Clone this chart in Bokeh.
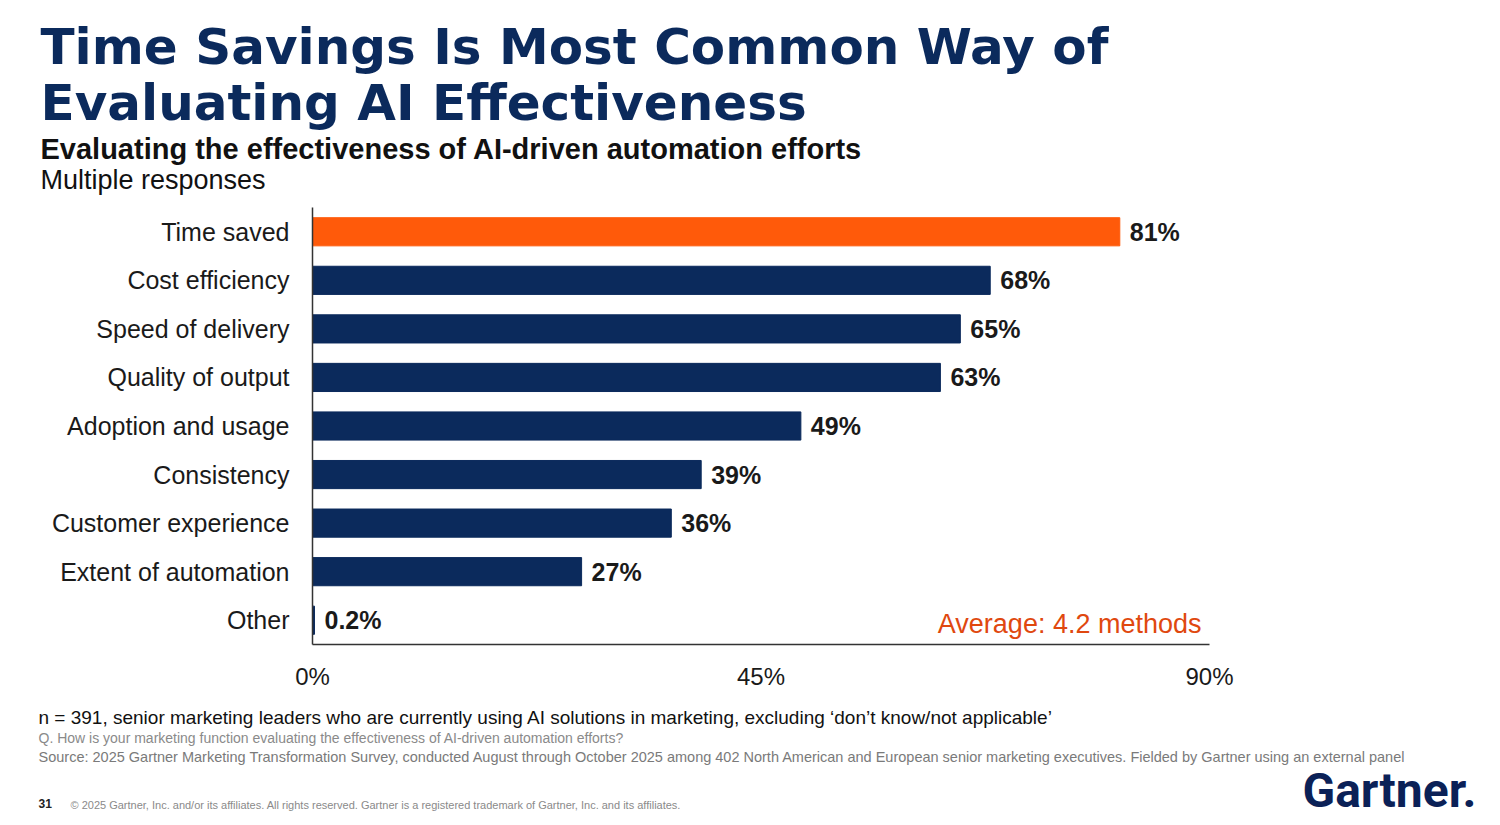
from bokeh.core.properties import value
from bokeh.embed import file_html
from bokeh.models import ColumnDataSource, FactorRange, FixedTicker, Label, PrintfTickFormatter, Range1d
from bokeh.plotting import figure
from bokeh.resources import INLINE

categories = ["Time saved", "Cost efficiency", "Speed of delivery", "Quality of output",
              "Adoption and usage", "Consistency", "Customer experience",
              "Extent of automation", "Other"]
shares = [81, 68, 65, 63, 49, 39, 36, 27, 0.2]
x_ticks = [0, 45, 90]

title_lines = ["Time Savings Is Most Common Way of", "Evaluating AI Effectiveness"]
subtitle = "Evaluating the effectiveness of AI-driven automation efforts"
note = "Multiple responses"
average_note = "Average: 4.2 methods"
base_note = ("n = 391, senior marketing leaders who are currently using AI solutions in marketing, "
             "excluding \u2018don\u2019t know/not applicable\u2019")
question = "Q. How is your marketing function evaluating the effectiveness of AI-driven automation efforts?"
source = ("Source: 2025 Gartner Marketing Transformation Survey, conducted August through October 2025 "
          "among 402 North American and European senior marketing executives. Fielded by Gartner using an external panel")
copyright_note = ("\u00a9 2025 Gartner, Inc. and/or its affiliates. All rights reserved. "
                  "Gartner is a registered trademark of Gartner, Inc. and its affiliates.")

NAVY = "#0b2a5c"
ORANGE = "#ff5a0a"
FONT = "Liberation Sans"
W = 1492


def text_panel(top, bottom):
    # a blank strip whose data units are page pixels (y grows downwards)
    f = figure(width=W, height=bottom - top, output_backend="svg", toolbar_location=None,
               x_range=Range1d(0, W), y_range=Range1d(bottom, top),
               x_axis_location=None, y_axis_location=None, min_border=0)
    f.outline_line_color = None
    f.grid.visible = False
    f.border_fill_color = "white"
    f.background_fill_color = "white"
    return f


def put(f, x, y, text, size, color="#1a1a1a", font=FONT, bold=False, align="left"):
    f.text(x=[x], y=[y], text=[text], text_font=value(font), text_font_size=size,
           text_color=color, text_font_style="bold" if bold else "normal",
           text_align=align, text_baseline="middle")


# header
head = text_panel(0, 207)
put(head, 40, 46, title_lines[0], "50px", NAVY, "DejaVu Sans", True)
put(head, 40, 102, title_lines[1], "50px", NAVY, "DejaVu Sans", True)
put(head, 40, 148, subtitle, "29px", "#111111", bold=True)
put(head, 40, 179, note, "27px", "#111111")

# chart
src = ColumnDataSource(dict(
    cat=categories,
    val=shares,
    color=[ORANGE if i == 0 else NAVY for i in range(len(categories))],
    label=[f"{v:g}%" for v in shares],
))

p = figure(width=W, height=493, output_backend="svg", toolbar_location=None,
           y_range=FactorRange(*reversed(categories)), x_range=Range1d(0, 90),
           min_border_left=312, min_border_right=W - 1209, min_border_top=0, min_border_bottom=56)
p.background_fill_color = "white"
p.border_fill_color = "white"
p.outline_line_color = None
p.grid.grid_line_color = None

p.hbar(y="cat", right="val", left=0, height=0.58, color="color", source=src)
p.text(x="val", y="cat", text="label", source=src, x_offset=10, text_baseline="middle",
       text_font=value(FONT), text_font_style="bold", text_font_size="25px", text_color="#1a1a1a")
p.add_layout(Label(x=889, y=21, x_units="screen", y_units="screen", text=average_note,
                   text_font=FONT, text_font_size="27px", text_color="#e0480f",
                   text_align="right", text_baseline="middle"))

p.yaxis.major_label_text_font = FONT
p.yaxis.major_label_text_font_size = "25px"
p.yaxis.major_label_text_color = "#1a1a1a"
p.yaxis.major_label_standoff = 17
p.yaxis.major_tick_line_color = None
p.yaxis.minor_tick_line_color = None
p.yaxis.axis_line_color = "#333333"
p.yaxis.axis_line_width = 1.5

p.xaxis.ticker = FixedTicker(ticks=x_ticks)
p.xaxis.formatter = PrintfTickFormatter(format="%d%%")
p.xaxis.major_label_text_font = FONT
p.xaxis.major_label_text_font_size = "24px"
p.xaxis.major_label_text_color = "#1a1a1a"
p.xaxis.major_label_standoff = 12
p.xaxis.major_tick_line_color = None
p.xaxis.minor_tick_line_color = None
p.xaxis.axis_line_color = "#333333"
p.xaxis.axis_line_width = 1.5

# footer
foot = text_panel(700, 823)
put(foot, 38, 717, base_note, "19px", "#111111")
put(foot, 38, 737, question, "14px", "#8a8a8a")
put(foot, 38, 756, source, "14.5px", "#7a7a7a")
put(foot, 38, 803, "31", "12px", "#222222", bold=True)
put(foot, 70, 804, copyright_note, "11px", "#8a8a8a")
put(foot, 1476, 790, "Gartner.", "48px", "#0b2157", "Roboto", True, align="right")

# three separate roots, stacked in the page without frame alignment
open("out.html", "w").write(file_html([head, p, foot], INLINE))
